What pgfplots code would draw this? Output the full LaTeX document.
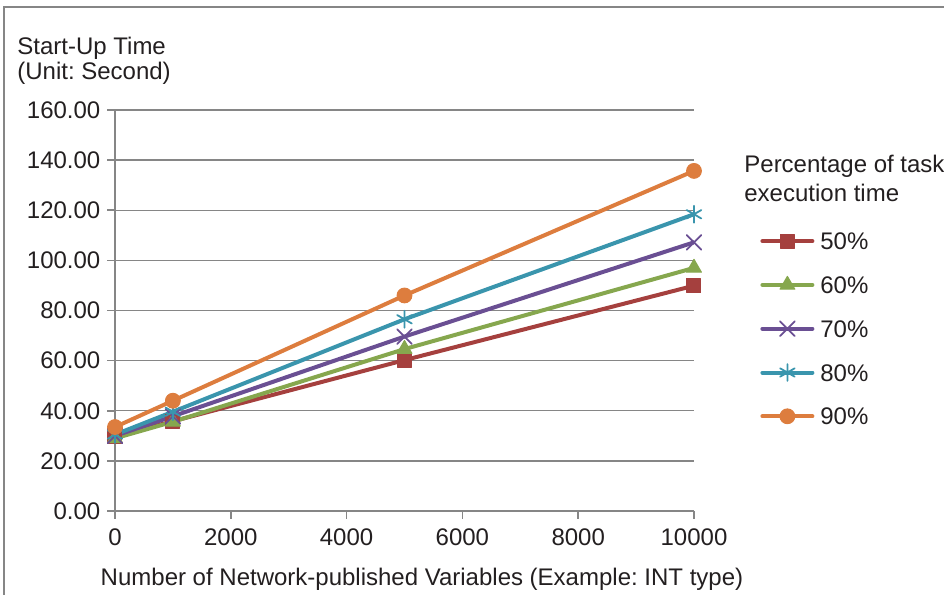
\documentclass[border=0pt]{standalone}
\usepackage{fontspec}
\setmainfont{Liberation Sans}
\usepackage{pgfplots}
\pgfplotsset{compat=1.18}

\definecolor{c50}{RGB}{165,64,62}
\definecolor{c60}{RGB}{134,167,78}
\definecolor{c70}{RGB}{106,79,147}
\definecolor{c80}{RGB}{58,149,173}
\definecolor{c90}{RGB}{221,125,62}
\definecolor{axgray}{RGB}{134,134,134}
\definecolor{txt}{RGB}{35,31,32}
\newcommand{\chartfont}{\fontsize{12}{12.5}\selectfont}

\begin{document}
\frenchspacing
\begin{tikzpicture}
\useasboundingbox (-57.5pt,-42pt) rectangle (414.5pt,255.5pt);
% outer frame (only top and left edges are visible)
\draw[axgray, line width=1pt] (-55.5pt,-42pt) -- (-55.5pt,252pt) -- (414.5pt,252pt);

\begin{axis}[
    scale only axis,
    width=289.5pt, height=200.5pt,
    xmin=0, xmax=10000,
    ymin=0, ymax=160,
    axis lines=left,
    axis line style={-, axgray, line width=0.8pt},
    tick align=outside,
    major tick length=3.8pt,
    tick style={axgray, line width=0.8pt},
    xtick={0,2000,4000,6000,8000,10000},
    ytick={0,20,40,60,80,100,120,140,160},
    scaled ticks=false,
    ymajorgrids,
    major grid style={axgray, line width=0.7pt},
    /pgf/number format/assume math mode=true,
    x tick label style={/pgf/number format/1000 sep={}, yshift=-1.5pt},
    y tick label style={/pgf/number format/.cd, fixed, fixed zerofill, precision=2},
    ticklabel style={font=\chartfont, text=txt},
    xlabel={Number of Network-published Variables (Example: INT type)},
    xlabel style={font=\chartfont, text=txt, at={(axis description cs:0.5302,-0.1858)}, anchor=base},
    ylabel={Start-Up Time\\(Unit: Second)},
    ylabel style={rotate=-90, font=\chartfont, text=txt, align=left, inner sep=0pt,
        at={(axis description cs:-0.1693,1.1830)}, anchor=north west},
    legend cell align=left,
    legend style={draw=none, fill=none, at={(axis description cs:1.1140,0.6955)}, anchor=north west,
        inner sep=0pt, row sep=13.3pt, column sep=3pt, font=\chartfont, text=txt,
        nodes={inner sep=0pt, text height=8.6pt, text depth=0pt, anchor=west}},
    legend image code/.code={\draw[#1, mark repeat=2, mark phase=2] plot coordinates {(0pt,0pt) (12.5pt,0pt) (25pt,0pt)};},
    every axis plot/.append style={line width=2pt, line cap=round, line join=round},
]
\addplot[c50, mark=square*, mark size=3.5pt, mark options={line width=0.5pt}]
    coordinates {(0,29.8) (1000,35.8) (5000,60.2) (10000,89.9)};
\addlegendentry{50\%}
\addplot[c60, mark=triangle*, mark size=4.3pt, mark options={line width=0.5pt}]
    coordinates {(0,29.0) (1000,35.6) (5000,64.6) (10000,97.0)};
\addlegendentry{60\%}
\addplot[c70, mark=x, mark size=5.2pt, mark options={line width=0.9pt}]
    coordinates {(0,30.0) (1000,37.8) (5000,69.6) (10000,107.2)};
\addlegendentry{70\%}
\addplot[c80, mark=asterisk, mark size=4.2pt, mark options={line width=0.9pt}]
    coordinates {(0,30.5) (1000,39.6) (5000,76.5) (10000,118.4)};
\addlegendentry{80\%}
\addplot[c90, mark=*, mark size=3.7pt, mark options={line width=0.5pt}]
    coordinates {(0,33.5) (1000,44.0) (5000,86.0) (10000,135.7)};
\addlegendentry{90\%}
\end{axis}

\node[anchor=north west, align=left, inner sep=0pt, font=\fontsize{12}{14.2}\selectfont, text=txt]
    at (314.5pt,178pt) {Percentage of task\\execution time};
\end{tikzpicture}
\end{document}
